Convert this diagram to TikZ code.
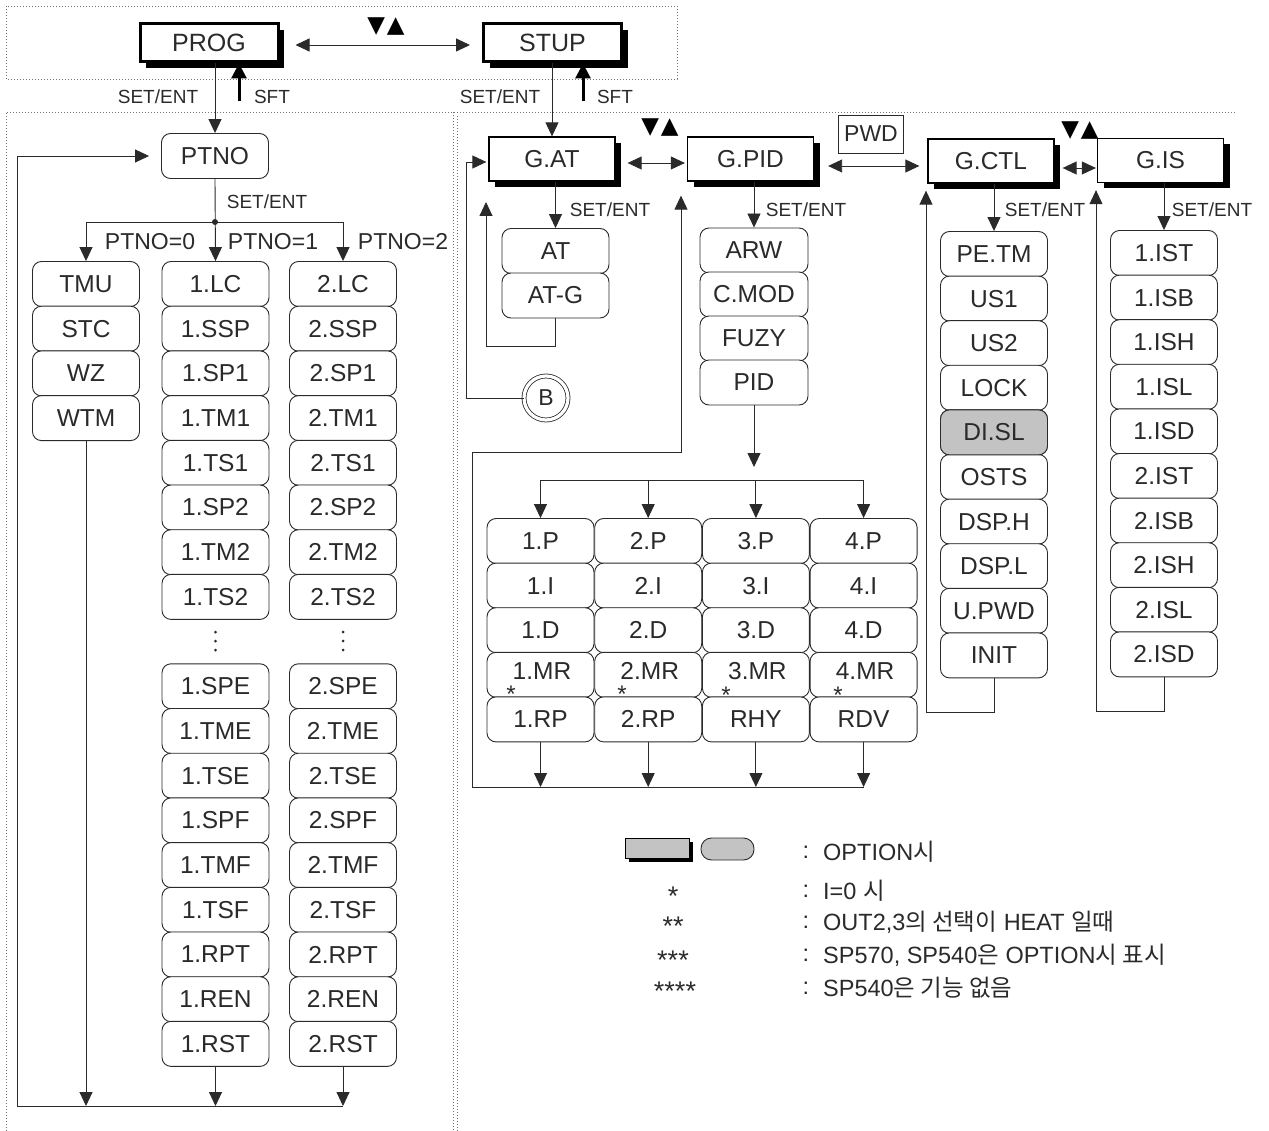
\documentclass[tikz,border=0pt]{standalone}
\usepackage{fontspec}
\setmainfont{Liberation Sans}
\newfontfamily\kr{Noto Sans CJK KR}
\newfontfamily\dv{DejaVu Sans}
\usetikzlibrary{arrows.meta,shadows,calc}
\newcommand\FBox{\fontsize{24.5}{26}\selectfont}
\newcommand\FLeg{\fontsize{23.5}{25}\selectfont}
\newcommand\FSm{\fontsize{19}{20}\selectfont}
\newcommand\FMd{\fontsize{23}{24}\selectfont}
\newcommand\FTop{\fontsize{25}{26}\selectfont}
\newcommand\FTri{\dv\fontsize{23}{23}\selectfont}
\definecolor{ink}{HTML}{2A2A2A}
\definecolor{optgray}{HTML}{C3C3C3}
\tikzset{
 rbox/.style={draw=ink, line width=0.9pt, rounded corners=9pt, minimum width=107pt, minimum height=45pt, inner sep=0pt, font=\FBox, text=ink, fill=white},
 gbox/.style={draw=black, line width=1.3pt, fill=white, minimum width=126pt, minimum height=44pt, inner sep=0pt, font=\FBox, text=ink, drop shadow={shadow xshift=6pt, shadow yshift=-6pt, fill=black, opacity=1}},
 topbox/.style={gbox, line width=3pt, minimum width=138pt, minimum height=38pt, font=\FTop},
 lbl/.style={font=\FSm, text=ink, inner sep=0pt},
 plbl/.style={font=\FMd, text=ink, inner sep=0pt},
 tri/.style={font=\FTri, text=black, inner sep=0pt},
 arr/.style={draw=ink, line width=0.9pt, -{Triangle[length=14pt,width=13pt]}},
 dbl/.style={draw=ink, line width=0.9pt, {Triangle[length=14pt,width=13pt]}-{Triangle[length=14pt,width=13pt]}},
 ln/.style={draw=ink, line width=0.9pt},
 sftarr/.style={draw=black, line width=3pt, -{Triangle[length=15pt,width=15pt]}},
 frame/.style={draw=black!55, line width=0.7pt, dash pattern=on 1pt off 2pt},
 legt/.style={font=\FLeg, text=ink, anchor=west, inner sep=0pt},
 star/.style={font=\fontsize{27}{27}\selectfont, text=ink, anchor=north, inner sep=0pt},
 gstar/.style={font=\fontsize{24}{24}\selectfont, text=ink, anchor=north, inner sep=0pt},
 vdot/.style={circle, fill=ink, inner sep=0pt, minimum size=3pt},
}
\begin{document}
\begin{tikzpicture}[x=1pt,y=-1pt]
\useasboundingbox (0,0) rectangle (1269,1131);

% ---------- frames ----------
\draw[frame] (6,6) rectangle (677,79);
\draw[frame] (6,1131) -- (6,112) -- (1235,112);
\draw[frame] (453,112) -- (453,1131);
\draw[frame] (457,116) -- (457,1131);

% ---------- top ----------
\node[topbox] (prog) at (209,43) {PROG};
\node[topbox] (stup) at (552.5,43) {STUP};
\draw[dbl, shorten <=16pt, shorten >=12pt] ([yshift=-2pt]prog.east) -- ([yshift=-2pt]prog.east -| stup.west);
\node[tri] (t1) at (386,27) {▼\kern2pt▲};

\node[lbl] (se1) at (158,97) {SET/ENT};
\node[lbl] (sft1l) at (272,97) {SFT};
\coordinate (sft1) at (239,101);
\draw[sftarr] (sft1) -- (sft1 |- prog.south);

\node[lbl] (se2) at (500,97) {SET/ENT};
\node[lbl] (sft2l) at (615,97) {SFT};
\coordinate (sft2) at (583,101);
\draw[sftarr] (sft2) -- (sft2 |- stup.south);

% ---------- PROG branch ----------
\node[rbox] (ptno) at (215,156) {PTNO};
\draw[arr] (ptno.north |- prog.south) -- (ptno.north);
\node[lbl] (se3) at (267,202) {SET/ENT};

\node[rbox] (c00) at (86,284) {TMU};
\node[rbox] (c01) at (86,328.7) {STC};
\node[rbox] (c02) at (86,373.4) {WZ};
\node[rbox] (c03) at (86,418.1) {WTM};

\foreach \lab [count=\i from 0] in {LC,SSP,SP1,TM1,TS1,SP2,TM2,TS2}{
  \node[rbox] (a\i) at (215.5,{284+44.7*\i}) {1.\lab};
  \node[rbox] (b\i) at (343,{284+44.7*\i}) {2.\lab};
}
\foreach \lab [count=\i from 9] in {SPE,TME,TSE,SPF,TMF,TSF,RPT,REN,RST}{
  \node[rbox] (a\i) at (215.5,{284+44.7*\i}) {1.\lab};
  \node[rbox] (b\i) at (343,{284+44.7*\i}) {2.\lab};
}
\foreach \xx in {215.5,343}{
  \foreach \yy in {632,641,650}{
    \node[vdot] at (\xx,\yy) {};
  }
}

\node[circle, fill=ink, inner sep=0pt, minimum size=6pt] (junc) at (215,222) {};
\draw[arr] (ptno.south) -- (a0.north);
\draw[ln] (junc -| c00.north) -- (junc -| b0.north);
\draw[arr] (junc -| c00.north) -- (c00.north);
\draw[arr] (junc -| b0.north) -- (b0.north);
\node[plbl] (p0) at (150,242) {PTNO=0};
\node[plbl] (p1) at (273,242) {PTNO=1};
\node[plbl] (p2) at (403,242) {PTNO=2};

\coordinate (lbot) at (17,1106);
\draw[ln] (lbot) -- (lbot -| b17.south);
\draw[arr] (c03.south) -- (c03.south |- lbot);
\draw[arr] (a17.south) -- (a17.south |- lbot);
\draw[arr] (b17.south) -- (b17.south |- lbot);
\draw[arr, shorten >=12pt] (lbot) |- (ptno.west);

% ---------- STUP groups ----------
\node[gbox] (gat) at (552,159) {G.AT};
\node[gbox] (gpid) at (750.5,159) {G.PID};
\node[gbox] (gctl) at (991,161) {G.CTL};
\node[gbox] (gis) at (1160.5,160.5) {G.IS};
\node[draw=ink, line width=0.9pt, minimum width=65pt, minimum height=38pt, inner sep=0pt, font=\FMd, text=ink] (pwd) at (871,134) {PWD};

\draw[arr] (stup.south -| gat.north) -- (gat.north);
\draw[dbl, shorten <=12pt, shorten >=2pt] ([yshift=-4pt]gat.east) -- ([yshift=-4pt]gat.east -| gpid.west);
\node[tri] (t2) at (660,128) {▼\kern2pt▲};
\draw[dbl, shorten <=14pt, shorten >=8pt] ([yshift=-7pt]gpid.east) -- ([yshift=-7pt]gpid.east -| gctl.west);
\draw[dbl, shorten <=8pt, shorten >=1pt] ([yshift=-7pt]gctl.east) -- ([yshift=-7pt]gctl.east -| gis.west);
\node[tri] (t3) at (1080,131) {▼\kern2pt▲};

% G.AT
\node[rbox] (at) at (555.5,251) {AT};
\node[rbox] (atg) at (555.5,295.5) {AT-G};
\draw[arr] (at.north |- gat.south) -- (at.north);
\node[lbl] (se4) at (610,210) {SET/ENT};
\coordinate (atc) at (486,346);
\coordinate (atup) at (486,202);
\draw[arr] (atg.south) |- (atc) -- (atup);
\node[circle, draw=ink, line width=0.8pt, double=white, double distance=3.2pt, minimum size=44pt, inner sep=0pt, font=\FMd, text=ink] (bc) at (546,398) {B};
\coordinate (bcorner) at (466,398);
\draw[arr, shorten >=2pt] (bc.west) -- (bcorner) |- ([yshift=-3pt]gat.west);

% G.PID
\node[rbox, minimum width=108pt] (arw) at (754,250.5) {ARW};
\node[rbox, minimum width=108pt] (cmod) at (754,294.5) {C.MOD};
\node[rbox, minimum width=108pt] (fuzy) at (754,338.5) {FUZY};
\node[rbox, minimum width=108pt] (pid) at (754,382.5) {PID};
\draw[arr] (arw.north |- gpid.south) -- (arw.north);
\node[lbl] (se5) at (806,210) {SET/ENT};
\coordinate (pidtip) at (754,467);
\draw[arr] (pid.south) -- (pidtip);

\foreach \c/\n in {0/1,1/2,2/3,3/4}{
  \node[rbox] (g-0-\c) at ({540.5+107.7*\c},541) {\n.P};
  \node[rbox] (g-1-\c) at ({540.5+107.7*\c},585.6) {\n.I};
  \node[rbox] (g-2-\c) at ({540.5+107.7*\c},630.2) {\n.D};
  \node[rbox] (g-3-\c) at ({540.5+107.7*\c},674.8) {};
  \node[text=ink, font=\FBox, inner sep=0pt] (mr-\c) at ({542+107.7*\c},671) {\n.MR};
}
\node[rbox] (g-4-0) at (540.5,719.4) {1.RP};
\node[rbox] (g-4-1) at (648.2,719.4) {2.RP};
\node[rbox] (g-4-2) at (755.9,719.4) {RHY};
\node[rbox] (g-4-3) at (863.6,719.4) {RDV};
\node[gstar] (s1) at (511,686) {*};
\node[gstar] (s2) at (622,686) {*};
\node[gstar] (s3) at (726,687) {*};
\node[gstar] (s4) at (838,687) {*};

\coordinate (bar) at (600,480);
\draw[ln] (bar -| g-0-0.north) -- (bar -| g-0-3.north);
\foreach \c in {0,1,2,3}{
  \draw[arr] (bar -| g-0-\c.north) -- (g-0-\c.north);
}
\coordinate (rb) at (472,787);
\draw[ln] (rb) -- (rb -| g-4-3.south);
\foreach \c in {0,1,2,3}{
  \draw[arr] (g-4-\c.south) -- (g-4-\c.south |- rb);
}
\coordinate (pidret) at (681,452);
\draw[arr, shorten >=14pt] (rb) |- (pidret) -- (pidret |- gpid.south);

% G.CTL
\foreach \lab [count=\i from 0] in {PE.TM,US1,US2,LOCK,DI.SL,OSTS,DSP.H,DSP.L,U.PWD,INIT}{
  \node[rbox] (k\i) at (994,{254+44.6*\i}) {\lab};
}
\node[rbox, fill=optgray] (k4g) at (k4) {DI.SL};
\draw[arr] (k0.north |- gctl.south) -- (k0.north);
\node[lbl] (se6) at (1045,210) {SET/ENT};
\coordinate (kc) at (926,712);
\draw[arr, shorten >=7pt] (k9.south) |- (kc) -- (kc |- gctl.south);

% G.IS
\foreach \lab [count=\i from 0] in {1.IST,1.ISB,1.ISH,1.ISL,1.ISD,2.IST,2.ISB,2.ISH,2.ISL,2.ISD}{
  \node[rbox] (s\i) at (1164,{253+44.6*\i}) {\lab};
}
\draw[arr] (s0.north |- gis.south) -- (s0.north);
\node[lbl] (se7) at (1212,210) {SET/ENT};
\coordinate (ic) at (1096,711);
\draw[arr, shorten >=7pt] (s9.south) |- (ic) -- (ic |- gis.south);

% ---------- legend ----------
\node[draw=black, line width=1pt, fill=optgray, minimum width=64pt, minimum height=20pt, inner sep=0pt, drop shadow={shadow xshift=4pt, shadow yshift=-4pt, fill=black, opacity=1}] (optr) at (657,848) {};
\node[draw=ink, line width=0.9pt, fill=optgray, rounded corners=10.5pt, minimum width=53pt, minimum height=22pt, inner sep=0pt] (optp) at (727.5,849) {};

\node[font=\FLeg, text=ink, inner sep=0pt] (c1) at (806,852) {:};
\node[font=\FLeg, text=ink, inner sep=0pt] (c2) at (806,891) {:};
\node[font=\FLeg, text=ink, inner sep=0pt] (c3) at (806,922) {:};
\node[font=\FLeg, text=ink, inner sep=0pt] (c4) at (806,955) {:};
\node[font=\FLeg, text=ink, inner sep=0pt] (c5) at (806,988) {:};

\node[legt] (l1) at (823,852) {OPTION{\kr 시}};
\node[legt] (l2) at (823,891) {I=0 {\kr 시}};
\node[legt] (l3) at (823,922) {OUT2,3{\kr 의 선택이} HEAT {\kr 일때}};
\node[legt] (l4) at (823,955) {SP570, SP540{\kr 은} OPTION{\kr 시 표시}};
\node[legt] (l5) at (823,988) {SP540{\kr 은 기능 없음}};

\node[star] (ls1) at (673,887) {*};
\node[star] (ls2) at (673,917) {**};
\node[star] (ls3) at (673,951) {***};
\node[star] (ls4) at (675,982) {****};
\end{tikzpicture}
\end{document}
